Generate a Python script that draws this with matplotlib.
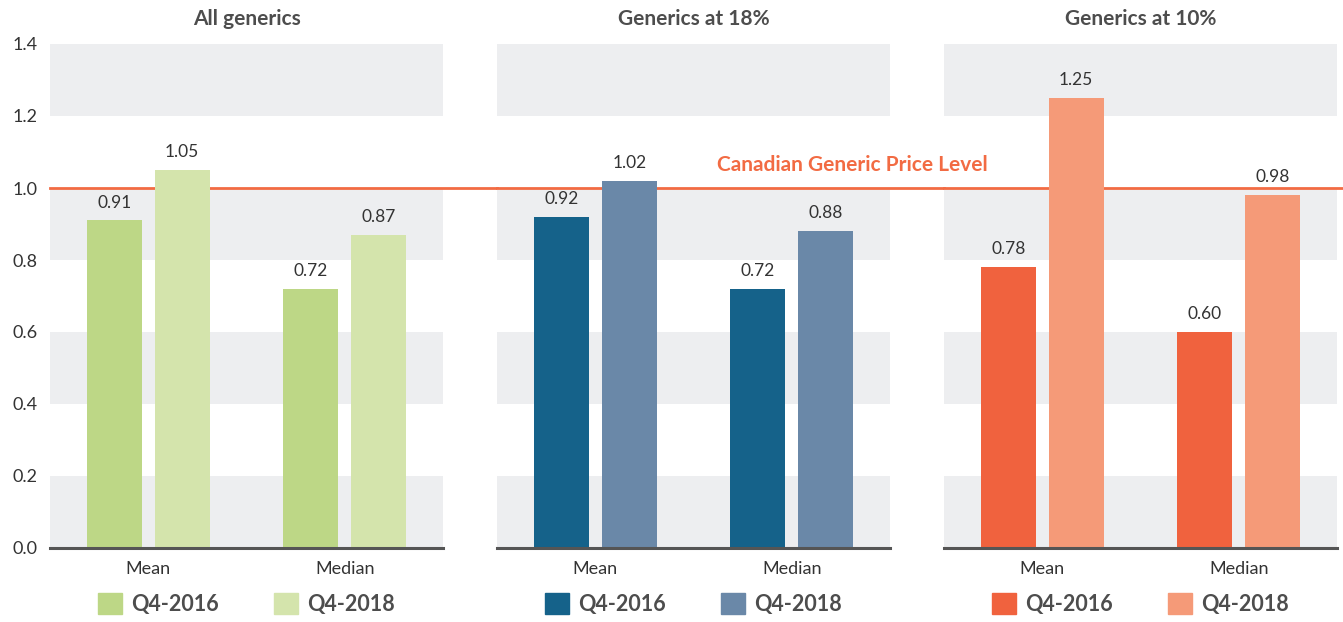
import matplotlib.pyplot as plt
from matplotlib.patches import Patch
import numpy as np

### Data
panels = ['All generics', 'Generics at 18%', 'Generics at 10%']
categories = ['Mean', 'Median']
series = ['Q4-2016', 'Q4-2018']
q4_2016 = [[0.91, 0.72], [0.92, 0.72], [0.78, 0.60]]
q4_2018 = [[1.05, 0.87], [1.02, 0.88], [1.25, 0.98]]
ref_level = 1.0
ref_label = 'Canadian Generic Price Level'

colors_2016 = ['#BDD786', '#15628A', '#F0623E']
colors_2018 = ['#D4E4AC', '#6A88A8', '#F59A78']
band = '#EDEEF0'
txt = '#4D4D4D'
refcol = '#F26B43'

plt.rcParams['font.family'] = ['Lato', 'DejaVu Sans']

W, H = 1343, 622
fig = plt.figure(figsize=(W / 100, H / 100), dpi=100)

lefts = [50, 497, 944]
pw = 393
bot, top = 548, 44
x = np.arange(len(categories))
bw = 0.28
off = 0.173

axes = []
for i, l in enumerate(lefts):
    ax = fig.add_axes([l / W, 1 - bot / H, pw / W, (bot - top) / H])
    ax.set_facecolor('none')
    # alternating grey bands
    for y0 in [0.0, 0.4, 0.8, 1.2]:
        ax.axhspan(y0, y0 + 0.2, color=band, lw=0, zorder=0)
    b1 = ax.bar(x - off, q4_2016[i], bw, color=colors_2016[i], zorder=3, label=series[0])
    b2 = ax.bar(x + off, q4_2018[i], bw, color=colors_2018[i], zorder=3, label=series[1])
    ax.bar_label(b1, fmt='%.2f', padding=7, fontsize=12.5, color='#333333')
    ax.bar_label(b2, fmt='%.2f', padding=7, fontsize=12.5, color='#333333')

    # reference line runs through the gaps too
    xmax = 1 + (lefts[i + 1] - l - pw) / pw if i < 2 else 1 + (W - l - pw) / pw
    ax.axhline(ref_level, xmin=0, xmax=xmax, color=refcol, lw=2, zorder=2, clip_on=False)

    ax.set_xlim(-0.5, 1.5)
    ax.set_ylim(0, 1.4)
    ax.set_xticks(x)
    ax.set_xticklabels(categories, fontsize=13, color='#333333')
    ax.set_yticks(np.arange(0, 1.41, 0.2))
    if i == 0:
        ax.set_yticklabels(['%.1f' % v for v in np.arange(0, 1.41, 0.2)], fontsize=13, color='#333333')
    else:
        ax.set_yticklabels([])
    ax.tick_params(length=0, pad=9)
    ax.tick_params(axis='x', pad=9)
    for s in ['top', 'right', 'left']:
        ax.spines[s].set_visible(False)
    ax.spines['bottom'].set_color('#555555')
    ax.spines['bottom'].set_linewidth(2.2)
    ax.spines['bottom'].set_zorder(4)

    ax.set_title(panels[i], fontsize=15, fontweight='bold', color=txt, pad=14)

    handles = [Patch(color=colors_2016[i], label=series[0]),
               Patch(color=colors_2018[i], label=series[1])]
    leg = ax.legend(handles=handles, loc='upper center', bbox_to_anchor=(0.5, -0.09),
                    ncol=2, frameon=False, handlelength=1.1, handleheight=1.1,
                    handletextpad=0.4, columnspacing=2.6, borderpad=0, borderaxespad=0,
                    prop={'size': 15.5, 'weight': 'bold'})
    for t in leg.get_texts():
        t.set_color(txt)
    axes.append(ax)

axes[1].text(1.306, 1.064, ref_label, ha='center', va='center', fontsize=15,
             fontweight='bold', color=refcol, zorder=5)

plt.savefig('out.png', dpi=100)
